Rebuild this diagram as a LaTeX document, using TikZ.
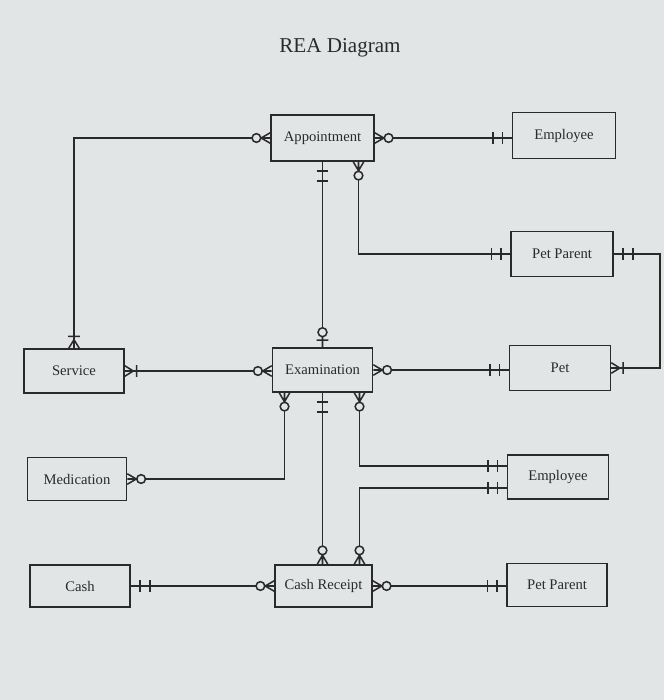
\documentclass[tikz,border=0pt]{standalone}
\usepackage{fontspec}
\setmainfont{Liberation Serif}
\usetikzlibrary{arrows.meta,calc}
\definecolor{bgc}{RGB}{226,229,229}
\definecolor{ink}{RGB}{42,42,42}

% zero or many: circle + crow's foot
\pgfdeclarearrow{
  name=ZM,
  setup code={
    \pgfarrowssettipend{0pt}
    \pgfarrowssetlineend{-15.4pt}
    \pgfarrowssetbackend{-16.2pt}
    \pgfarrowsupperhullpoint{0pt}{5.1pt}
    \pgfarrowsupperhullpoint{-16.2pt}{5.1pt}
  },
  drawing code={
    \pgfsetdash{}{0pt}
    \pgfpathmoveto{\pgfqpoint{0pt}{4.5pt}}
    \pgfpathlineto{\pgfqpoint{-7.7pt}{0pt}}
    \pgfpathlineto{\pgfqpoint{0pt}{-4.5pt}}
    \pgfpathmoveto{\pgfqpoint{0pt}{0pt}}
    \pgfpathlineto{\pgfqpoint{-8.1pt}{0pt}}
    \pgfpathcircle{\pgfqpoint{-11.8pt}{0pt}}{3.7pt}
    \pgfusepathqstroke
  }
}
% zero or one: circle + bar
\pgfdeclarearrow{
  name=ZO,
  setup code={
    \pgfarrowssettipend{0pt}
    \pgfarrowssetlineend{-16.6pt}
    \pgfarrowssetbackend{-16.6pt}
    \pgfarrowsupperhullpoint{0pt}{5.1pt}
    \pgfarrowsupperhullpoint{-16.6pt}{5.1pt}
  },
  drawing code={
    \pgfsetdash{}{0pt}
    \pgfpathmoveto{\pgfqpoint{-6pt}{5.1pt}}
    \pgfpathlineto{\pgfqpoint{-6pt}{-5.1pt}}
    \pgfpathmoveto{\pgfqpoint{0pt}{0pt}}
    \pgfpathlineto{\pgfqpoint{-9pt}{0pt}}
    \pgfpathcircle{\pgfqpoint{-12.8pt}{0pt}}{3.8pt}
    \pgfusepathqstroke
  }
}
% one or many: bar + crow's foot
\pgfdeclarearrow{
  name=OM,
  setup code={
    \pgfarrowssettipend{0pt}
    \pgfarrowssetlineend{0pt}
    \pgfarrowssetbackend{-10.2pt}
    \pgfarrowsupperhullpoint{0pt}{5.1pt}
    \pgfarrowsupperhullpoint{-10.2pt}{5.1pt}
  },
  drawing code={
    \pgfsetdash{}{0pt}
    \pgfpathmoveto{\pgfqpoint{0pt}{4.5pt}}
    \pgfpathlineto{\pgfqpoint{-7.3pt}{0pt}}
    \pgfpathlineto{\pgfqpoint{0pt}{-4.5pt}}
    \pgfpathmoveto{\pgfqpoint{-10.2pt}{5.1pt}}
    \pgfpathlineto{\pgfqpoint{-10.2pt}{-5.1pt}}
    \pgfusepathqstroke
  }
}
% one and only one: double bar
\pgfdeclarearrow{
  name=OO,
  setup code={
    \pgfarrowssettipend{0pt}
    \pgfarrowssetlineend{0pt}
    \pgfarrowssetbackend{-16.2pt}
    \pgfarrowsupperhullpoint{0pt}{5.1pt}
    \pgfarrowsupperhullpoint{-16.2pt}{5.1pt}
  },
  drawing code={
    \pgfsetdash{}{0pt}
    \pgfpathmoveto{\pgfqpoint{-7.7pt}{5.1pt}}
    \pgfpathlineto{\pgfqpoint{-7.7pt}{-5.1pt}}
    \pgfpathmoveto{\pgfqpoint{-16.2pt}{5.1pt}}
    \pgfpathlineto{\pgfqpoint{-16.2pt}{-5.1pt}}
    \pgfusepathqstroke
  }
}

\begin{document}
\begin{tikzpicture}[x=0.03cm,y=-0.03cm,
  ent/.style={draw=ink,line width=1.3pt,inner sep=0pt,text=ink,
    minimum width=3cm,minimum height=1.32cm,
    font=\fontsize{12.5}{15}\selectfont},
  conn/.style={draw=ink,line width=1.3pt},
  ttl/.style={text=ink,font=\fontsize{18}{22}\selectfont}]

\fill[bgc] (0,0) rectangle (664,700);

\node[ttl] (title) at (340,48) {REA Diagram};

\node[ent,minimum width=3.09cm,minimum height=1.38cm] (app) at (322.5,138) {Appointment};
\node[ent,minimum width=3.09cm,minimum height=1.38cm] (emp1) at (564,135.5) {Employee};
\node[ent,minimum width=3.06cm,minimum height=1.35cm] (pp1) at (562,254) {Pet Parent};
\node[ent] (serv) at (74,371) {Service};
\node[ent] (exam) at (322.5,370) {Examination};
\node[ent,minimum width=3.03cm,minimum height=1.35cm] (pet) at (560,368) {Pet};
\node[ent,minimum width=2.97cm,minimum height=1.29cm] (med) at (77,479) {Medication};
\node[ent,minimum width=3.03cm] (emp2) at (558,477) {Employee};
\node[ent,minimum height=1.26cm] (cash) at (80,586) {Cash};
\node[ent,minimum width=2.91cm,minimum height=1.26cm] (cr) at (323.5,586) {Cash Receipt};
\node[ent,minimum height=1.29cm] (pp2) at (557,585) {Pet Parent};

\coordinate (loop) at (660,368);

\draw[conn,{ZM}-{OM}] (app.west) -| (serv.north);
\draw[conn,{ZM}-{OO}] (app.east) -- (app.east -| emp1.west);
\draw[conn,{OO}-{ZO}] (app.south) -- (exam.north);
\draw[conn,{ZM}-{OO}] ($(app.south)+(36,0)$) |- (pp1.west);
\draw[conn,{OO}-{OM}] (pp1.east) -| (loop) -- (pet.east);
\draw[conn,{OM}-{ZM}] (serv.east) -- (serv.east -| exam.west);
\draw[conn,{ZM}-{OO}] (exam.east) -- (exam.east -| pet.west);
\draw[conn,{ZM}-{ZM}] ($(exam.south)+(-38,0)$) |- (med.east);
\draw[conn,{OO}-{ZM}] (exam.south) -- (exam.south |- cr.north);
\draw[conn,{ZM}-{OO}] ($(exam.south)+(37,0)$) |- ($(emp2.west)+(0,-11)$);
\draw[conn,{OO}-{ZM}] ($(emp2.west)+(0,11)$) -| ($(cr.north)+(36,0)$);
\draw[conn,{OO}-{ZM}] (cash.east) -- (cash.east -| cr.west);
\draw[conn,{ZM}-{OO}] (cr.east) -- (cr.east -| pp2.west);
\end{tikzpicture}
\end{document}
